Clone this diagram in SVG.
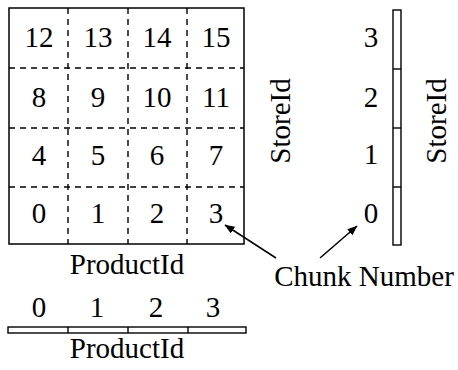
<svg xmlns="http://www.w3.org/2000/svg" width="458" height="370" viewBox="0 0 458 370">
  <style>
    text { font-family: "Liberation Serif", "Times New Roman", serif; font-size: 29px; fill: #000; }
    .mid { text-anchor: middle; }
    .frame { fill: none; stroke: #000; stroke-width: 1.5; }
    .dash { stroke: #000; stroke-width: 1.4; stroke-dasharray: 6 5; }
    .bar { fill: #fff; stroke: #000; stroke-width: 1.4; }
    .tick { stroke: #000; stroke-width: 1.4; }
    .arrow { stroke: #000; stroke-width: 1.5; fill: none; marker-end: url(#head); }
  </style>
  <defs>
    <marker id="head" viewBox="0 0 10 8" refX="9.5" refY="4" markerWidth="10" markerHeight="8" markerUnits="userSpaceOnUse" orient="auto">
      <path d="M0,0 L10,4 L0,8 z" fill="#000"/>
    </marker>
  </defs>
  <rect width="458" height="370" fill="#fff"/>

  <!-- 4x4 chunk grid -->
  <g id="grid">
    <rect class="frame" x="9" y="8" width="235" height="236"/>
    <line class="dash" x1="68" y1="8" x2="68" y2="244"/>
    <line class="dash" x1="128" y1="8" x2="128" y2="244"/>
    <line class="dash" x1="187" y1="8" x2="187" y2="244"/>
    <line class="dash" x1="9" y1="68" x2="244" y2="68"/>
    <line class="dash" x1="9" y1="128" x2="244" y2="128"/>
    <line class="dash" x1="9" y1="187" x2="244" y2="187"/>
    <text class="mid" x="39" y="47">12</text>
    <text class="mid" x="98" y="47">13</text>
    <text class="mid" x="157" y="47">14</text>
    <text class="mid" x="216" y="47">15</text>
    <text class="mid" x="39" y="107">8</text>
    <text class="mid" x="98" y="107">9</text>
    <text class="mid" x="157" y="107">10</text>
    <text class="mid" x="216" y="107">11</text>
    <text class="mid" x="39" y="165">4</text>
    <text class="mid" x="98" y="165">5</text>
    <text class="mid" x="157" y="165">6</text>
    <text class="mid" x="216" y="165">7</text>
    <text class="mid" x="39" y="223">0</text>
    <text class="mid" x="98" y="223">1</text>
    <text class="mid" x="157" y="223">2</text>
    <text class="mid" x="216" y="223">3</text>
  </g>
  <g id="grid-x-label"><text class="mid" x="127" y="274">ProductId</text></g>
  <g id="grid-y-label"><text class="mid" transform="translate(290 121) rotate(-90)">StoreId</text></g>

  <!-- StoreId axis strip -->
  <g id="store-strip">
    <rect class="bar" x="393" y="10" width="8" height="235"/>
    <line class="tick" x1="393" y1="69" x2="401" y2="69"/>
    <line class="tick" x1="393" y1="128" x2="401" y2="128"/>
    <line class="tick" x1="393" y1="187" x2="401" y2="187"/>
    <text class="mid" x="371" y="47">3</text>
    <text class="mid" x="371" y="107">2</text>
    <text class="mid" x="371" y="164">1</text>
    <text class="mid" x="371" y="223">0</text>
  </g>
  <g id="strip-y-label"><text class="mid" transform="translate(446 121) rotate(-90)">StoreId</text></g>

  <!-- ProductId axis strip -->
  <g id="product-strip">
    <rect class="bar" x="8" y="327" width="238" height="6"/>
    <line class="tick" x1="68" y1="327" x2="68" y2="333"/>
    <line class="tick" x1="128" y1="327" x2="128" y2="333"/>
    <line class="tick" x1="188" y1="327" x2="188" y2="333"/>
    <text class="mid" x="39" y="317">0</text>
    <text class="mid" x="97" y="317">1</text>
    <text class="mid" x="156" y="317">2</text>
    <text class="mid" x="213" y="317">3</text>
  </g>
  <g id="strip-x-label"><text class="mid" x="127" y="358">ProductId</text></g>

  <g id="chunk-label"><text class="mid" x="364" y="286">Chunk Number</text></g>

  <!-- pointers from the label -->
  <g id="connectors">
    <line class="arrow" x1="276" y1="258" x2="225" y2="225"/>
    <line class="arrow" x1="320" y1="258" x2="357" y2="226"/>
  </g>
</svg>
